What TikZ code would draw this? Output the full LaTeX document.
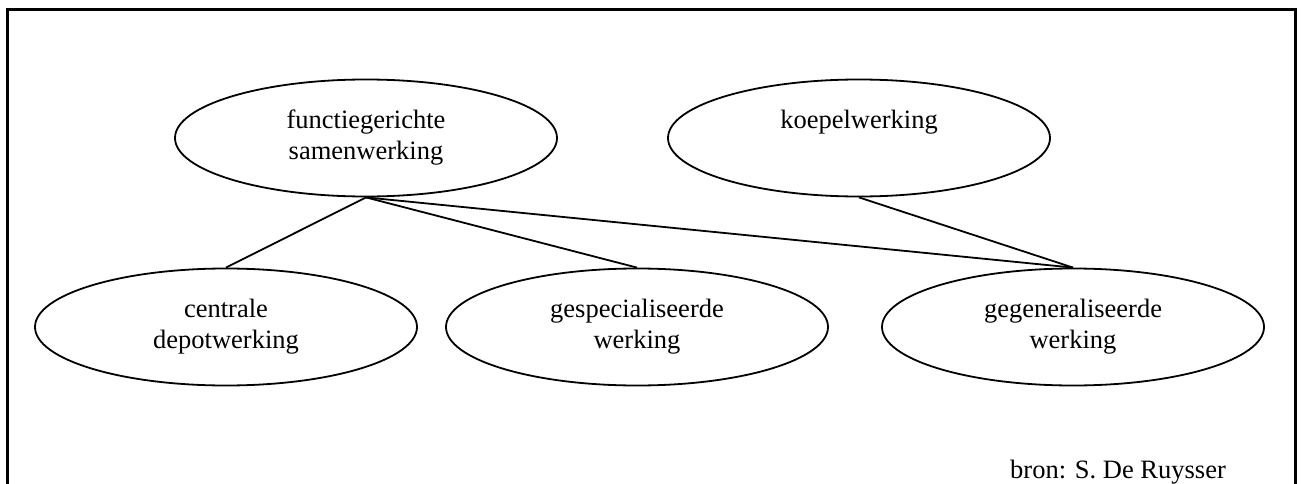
\documentclass[tikz,border=0pt]{standalone}
\usepackage{fontspec}
\setmainfont{Liberation Serif}
\usetikzlibrary{shapes.geometric}
\tikzset{
  form/.style={ellipse, draw, line width=1.8pt, minimum width=382pt, minimum height=117pt,
    inner sep=0pt, align=center, font=\fontsize{26.5}{31}\selectfont},
  link/.style={line width=1.8pt},
  frame/.style={line width=3pt}
}
\begin{document}
\begin{tikzpicture}[x=1pt, y=-1pt]
  \useasboundingbox (0,0) rectangle (1301,484);
  % open frame around the scheme
  \draw[frame] (7,490) -- (7,10) -- (1295,10) -- (1295,490);

  % upper row
  \node[form] (fs) at (366,138) {functiegerichte\\samenwerking};
  \node[form] (kw) at (859,138) {koepelwerking\\\phantom{g}};

  % lower row
  \node[form] (cd) at (226,327) {centrale\\depotwerking};
  \node[form] (gs) at (637,327) {gespecialiseerde\\werking};
  \node[form] (gg) at (1073,327) {gegeneraliseerde\\werking};

  % relations
  \draw[link] (fs.south) -- (cd.north);
  \draw[link] (fs.south) -- (gs.north);
  \draw[link] (fs.south) -- (gg.north);
  \draw[link] (kw.south) -- (gg.north);

  % source
  \node[anchor=base west, inner sep=0pt, font=\fontsize{26.5}{31}\selectfont] (src) at (1010,478) {bron: S. De Ruysser};
\end{tikzpicture}
\end{document}
